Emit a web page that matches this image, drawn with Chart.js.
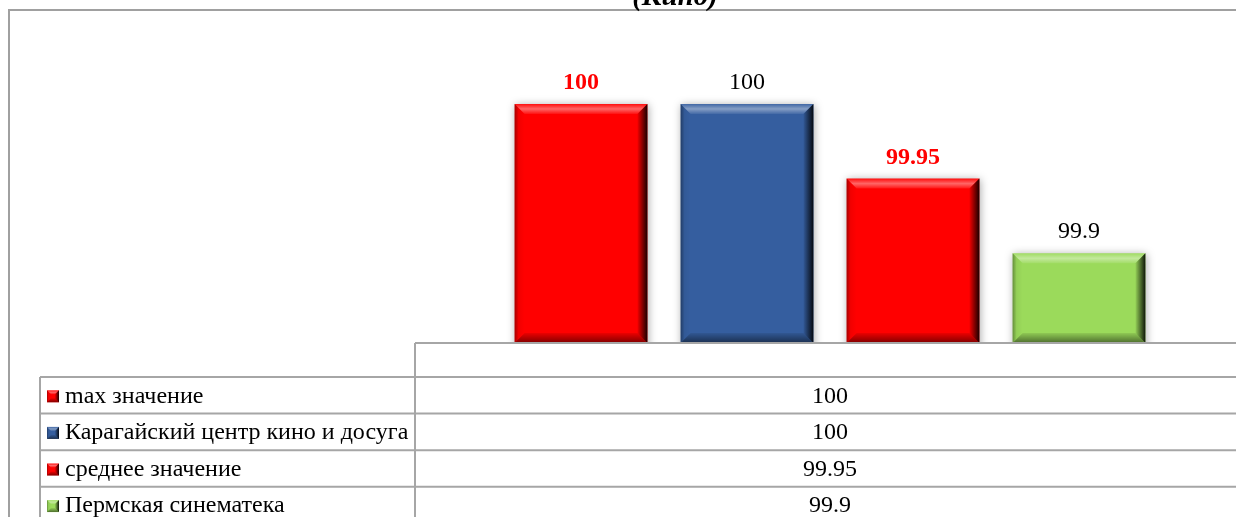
<!DOCTYPE html>
<html>
<head>
<meta charset="utf-8">
<script src="https://cdn.jsdelivr.net/npm/chart.js@4/dist/chart.umd.min.js"></script>
<style>
    html, body { margin: 0; padding: 0; background: #fff; overflow: hidden; }
    #wrap { position: relative; width: 1250px; height: 517px; }
</style>
</head>
<body>
<div id="wrap"><canvas id="chart" width="1250" height="517"></canvas></div>
<script>
const titleText = '(Кино)';
const categories = [''];
const seriesNames = ['max значение', 'Карагайский центр кино и досуга', 'среднее значение', 'Пермская синематека'];
const seriesValues = [100, 100, 99.95, 99.9];
const valueLabels = ['100', '100', '99.95', '99.9'];

const barColors = ['#ff0000', '#355e9f', '#ff0000', '#9bda5b'];
const labelColors = ['#ff0000', '#000000', '#ff0000', '#000000'];
const labelBold = [true, false, true, false];

const serif = '"Liberation Serif", "Times New Roman", serif';
const lineColor = '#a6a6a6';

// bevel look of the office bars
function bevel(ctx, x0, y0, x1, y1, b) {
    let g;
    // top highlight
    g = ctx.createLinearGradient(0, y0, 0, y0 + b);
    g.addColorStop(0, 'rgba(255,255,255,0.05)');
    g.addColorStop(0.5, 'rgba(255,255,255,0.40)');
    g.addColorStop(1, 'rgba(255,255,255,0.08)');
    poly(ctx, [[x0, y0], [x1, y0], [x1 - b, y0 + b], [x0 + b, y0 + b]], g);
    // bottom
    g = ctx.createLinearGradient(0, y1 - b, 0, y1);
    g.addColorStop(0, 'rgba(0,0,0,0.08)');
    g.addColorStop(1, 'rgba(0,0,0,0.5)');
    poly(ctx, [[x0 + b, y1 - b], [x1 - b, y1 - b], [x1, y1], [x0, y1]], g);
    // right
    g = ctx.createLinearGradient(x1 - b, 0, x1, 0);
    g.addColorStop(0, 'rgba(0,0,0,0.05)');
    g.addColorStop(1, 'rgba(0,0,0,0.9)');
    poly(ctx, [[x1 - b, y0 + b], [x1, y0], [x1, y1], [x1 - b, y1 - b]], g);
    // left
    g = ctx.createLinearGradient(x0, 0, x0 + b, 0);
    g.addColorStop(0, 'rgba(0,0,0,0.35)');
    g.addColorStop(0.4, 'rgba(0,0,0,0.05)');
    g.addColorStop(1, 'rgba(0,0,0,0)');
    poly(ctx, [[x0, y0], [x0 + b, y0 + b], [x0 + b, y1 - b], [x0, y1]], g);
}

function poly(ctx, pts, fill) {
    ctx.beginPath();
    ctx.moveTo(pts[0][0], pts[0][1]);
    for (let i = 1; i < pts.length; i++) ctx.lineTo(pts[i][0], pts[i][1]);
    ctx.closePath();
    ctx.fillStyle = fill;
    ctx.fill();
}

const barLook = {
    id: 'barLook',
    beforeDatasetsDraw(chart) {
        const ctx = chart.ctx;
        ctx.save();
        ctx.shadowColor = 'rgba(0,0,0,0.35)';
        ctx.shadowBlur = 9;
        ctx.shadowOffsetX = 1;
        ctx.shadowOffsetY = 1;
    },
    afterDatasetsDraw(chart) {
        const ctx = chart.ctx;
        const area = chart.chartArea;
        ctx.restore();
        chart.data.datasets.forEach((ds, i) => {
            chart.getDatasetMeta(i).data.forEach(bar => {
                const x0 = bar.x - bar.width / 2;
                const x1 = bar.x + bar.width / 2;
                const yb = Math.min(bar.base, area.bottom);
                bevel(ctx, x0, bar.y, x1, yb, 10);
                // value label
                ctx.save();
                ctx.font = (labelBold[i] ? 'bold ' : '') + '24px ' + serif;
                ctx.fillStyle = labelColors[i];
                ctx.textAlign = 'center';
                ctx.textBaseline = 'alphabetic';
                ctx.fillText(valueLabels[i], bar.x, bar.y - 15);
                ctx.restore();
            });
        });
    }
};

const dataTable = {
    id: 'dataTable',
    afterDraw(chart) {
        const ctx = chart.ctx;
        const area = chart.chartArea;
        const xs = chart.scales.x;
        const headH = 34;
        const rowH = 36.6;
        const tableLeft = 40;
        const bottom = area.bottom;
        const H = chart.height;

        ctx.save();
        // outer frame
        ctx.strokeStyle = '#a0a0a0';
        ctx.lineWidth = 2;
        ctx.beginPath();
        ctx.moveTo(9, H);
        ctx.lineTo(9, 10);
        ctx.lineTo(chart.width, 10);
        ctx.stroke();

        // title (only its lower part is visible)
        ctx.fillStyle = '#000';
        ctx.font = 'bold italic 29px ' + serif;
        ctx.textAlign = 'center';
        ctx.textBaseline = 'alphabetic';
        ctx.fillText(titleText, 675, 5);

        ctx.strokeStyle = lineColor;
        ctx.lineWidth = 2;
        ctx.beginPath();
        // axis line
        ctx.moveTo(xs.left, bottom);
        ctx.lineTo(chart.width, bottom);
        ctx.moveTo(xs.left, bottom);
        ctx.lineTo(xs.left, H);
        ctx.moveTo(tableLeft, bottom + headH);
        ctx.lineTo(tableLeft, H);
        for (let r = 0; r <= seriesNames.length; r++) {
            const y = bottom + headH + rowH * r;
            ctx.moveTo(tableLeft, y);
            ctx.lineTo(chart.width, y);
        }
        ctx.stroke();

        const cx = xs.getPixelForValue(0);
        ctx.font = '24px ' + serif;
        ctx.textBaseline = 'middle';
        seriesNames.forEach((name, i) => {
            const cy = bottom + headH + rowH * (i + 0.5) + 1;
            // legend key
            ctx.fillStyle = barColors[i];
            ctx.fillRect(47, cy - 6, 12, 12);
            bevel(ctx, 47, cy - 6, 59, cy + 6, 4);
            ctx.fillStyle = '#000';
            ctx.textAlign = 'left';
            ctx.fillText(name, 65, cy);
            ctx.textAlign = 'center';
            ctx.fillText(seriesValues[i], cx, cy);
        });
        ctx.restore();
    }
};

new Chart(document.getElementById('chart'), {
    type: 'bar',
    data: {
        labels: categories,
        datasets: seriesNames.map((name, i) => ({
            label: name,
            data: [seriesValues[i]],
            backgroundColor: barColors[i],
            borderWidth: 0,
            categoryPercentage: 0.8,
            barPercentage: 0.8
        }))
    },
    options: {
        responsive: false,
        devicePixelRatio: 1,
        animation: false,
        layout: { padding: { top: 74, bottom: 174, left: 415, right: 5 } },
        plugins: {
            legend: { display: false },
            title: { display: false },
            tooltip: { enabled: false }
        },
        scales: {
            x: { display: false },
            y: { display: false, min: 99.84, max: 100.02 }
        }
    },
    plugins: [barLook, dataTable]
});
</script>
</body>
</html>
